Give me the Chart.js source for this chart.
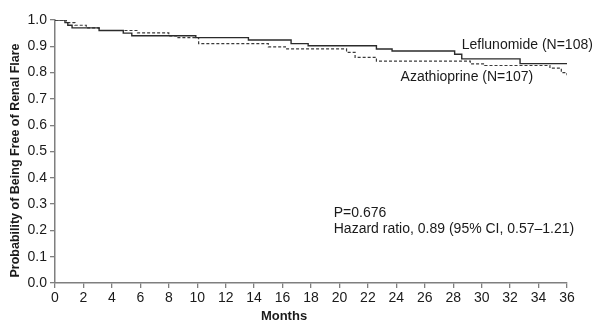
<!DOCTYPE html>
<html>
<head>
<meta charset="utf-8">
<script src="https://cdn.jsdelivr.net/npm/chart.js@4.4.1/dist/chart.umd.min.js"></script>
<style>
  html, body { margin: 0; padding: 0; background: #fff; }
</style>
</head>
<body>
<canvas id="myCanvas" width="602" height="323"></canvas>
<script>
// Kaplan-Meier steps (month, probability)
var leflunomideMonths = [0, 0.7, 0.9, 1.2, 3.1, 4.8, 5.4, 9.9, 13.6, 16.6, 17.8, 22.6, 23.7, 28.1, 28.6, 32.7, 36];
var leflunomideValues = [1.0, 0.99, 0.98, 0.97, 0.96, 0.95, 0.94, 0.933, 0.924, 0.91, 0.902, 0.89, 0.882, 0.87, 0.852, 0.834, 0.834];

var azathioprineMonths = [0, 0.8, 1.4, 2.2, 3.1, 5.8, 8.0, 8.6, 10.1, 15.0, 16.2, 20.5, 21.1, 22.6, 29.2, 30.2, 34.8, 35.6, 36];
var azathioprineValues = [1.0, 0.99, 0.98, 0.97, 0.96, 0.951, 0.94, 0.933, 0.91, 0.898, 0.89, 0.877, 0.858, 0.844, 0.833, 0.827, 0.817, 0.80, 0.79];

var xTicks = [0, 2, 4, 6, 8, 10, 12, 14, 16, 18, 20, 22, 24, 26, 28, 30, 32, 34, 36];
var yTicks = [0, 0.1, 0.2, 0.3, 0.4, 0.5, 0.6, 0.7, 0.8, 0.9, 1.0];

var xTitle = 'Months';
var yTitle = 'Probability of Being Free of Renal Flare';

var notes = [
  { text: 'Leflunomide (N=108)', x: 28.6, y: 0.905 },
  { text: 'Azathioprine (N=107)', x: 24.3, y: 0.783 },
  { text: 'P=0.676', x: 19.6, y: 0.266 },
  { text: 'Hazard ratio, 0.89 (95% CI, 0.57\u20131.21)', x: 19.6, y: 0.205 }
];

function toPoints(xs, ys) {
  var pts = [];
  for (var i = 0; i < xs.length; i++) pts.push({ x: xs[i], y: ys[i] });
  return pts;
}

var fontFam = '"Liberation Sans", Arial, sans-serif';
var axisGray = '#7f7f7f';
var textColor = '#1a1a1a';

// free text + axis titles (titles placed like the original, a bit off-centre)
var notePlugin = {
  id: 'notes',
  afterDraw: function(chart) {
    var c = chart.ctx;
    var xs = chart.scales.x, ys = chart.scales.y;
    c.save();
    c.fillStyle = textColor;
    c.font = '14px ' + fontFam;
    c.textBaseline = 'middle';
    c.textAlign = 'left';
    notes.forEach(function(n) {
      c.fillText(n.text, xs.getPixelForValue(n.x), ys.getPixelForValue(n.y));
    });

    c.font = 'bold 13px ' + fontFam;
    c.textAlign = 'center';
    c.fillText(xTitle, 284, 316);

    c.font = 'bold 12.5px ' + fontFam;
    c.translate(16, 160.5);
    c.rotate(-Math.PI / 2);
    c.fillText(yTitle, 0, 0);
    c.restore();
  }
};

var ctx = document.getElementById('myCanvas');
var chart = new Chart(ctx, {
  type: 'line',
  data: {
    datasets: [
      {
        label: 'Leflunomide (N=108)',
        data: toPoints(leflunomideMonths, leflunomideValues),
        borderColor: '#2b2b2b',
        borderWidth: 1.4,
        stepped: true,
        pointRadius: 0,
        fill: false
      },
      {
        label: 'Azathioprine (N=107)',
        data: toPoints(azathioprineMonths, azathioprineValues),
        borderColor: '#3a3a3a',
        borderWidth: 1.2,
        borderDash: [3, 2],
        stepped: true,
        pointRadius: 0,
        fill: false
      }
    ]
  },
  options: {
    responsive: false,
    animation: false,
    layout: { padding: { left: 0, right: 35, top: 20, bottom: 0 } },
    plugins: {
      legend: { display: false },
      tooltip: { enabled: false }
    },
    scales: {
      x: {
        type: 'linear',
        min: 0,
        max: 36,
        afterBuildTicks: function(s) { s.ticks = xTicks.map(function(v) { return { value: v }; }); },
        afterFit: function(s) { s.height = 40; },
        ticks: {
          color: textColor,
          font: { family: fontFam, size: 14 },
          padding: 2,
          maxRotation: 0,
          autoSkip: false
        },
        grid: { display: true, drawOnChartArea: false, drawTicks: true, tickLength: 5, color: axisGray, lineWidth: 1.3 },
        border: { color: axisGray, width: 1.5 }
      },
      y: {
        min: 0,
        max: 1.0,
        afterBuildTicks: function(s) { s.ticks = yTicks.map(function(v) { return { value: v }; }); },
        afterFit: function(s) { s.width = 55; },
        ticks: {
          color: textColor,
          font: { family: fontFam, size: 14 },
          padding: 3,
          callback: function(v) { return v.toFixed(1); }
        },
        grid: { display: true, drawOnChartArea: false, drawTicks: true, tickLength: 5, color: axisGray, lineWidth: 1.3 },
        border: { color: axisGray, width: 1.5 }
      }
    }
  },
  plugins: [notePlugin]
});
</script>
</body>
</html>
